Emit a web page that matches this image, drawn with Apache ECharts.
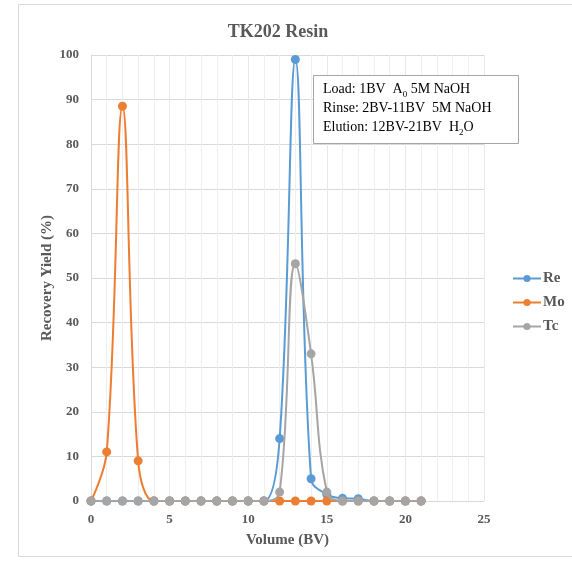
<!DOCTYPE html>
<html><head><meta charset="utf-8">
<script src="https://cdn.jsdelivr.net/npm/echarts@6/dist/echarts.min.js"></script>
<style>html,body{margin:0;padding:0;background:#fff}#c{width:572px;height:562px}</style>
</head><body><div id="c"></div>
<script>
const volumes = [0,1,2,3,4,5,6,7,8,9,10,11,12,13,14,15,16,17,18,19,20,21];
const reValues = [0,0,0,0,0,0,0,0,0,0,0,0,14,99,5,1.5,0.6,0.5,0,0,0,0];
const moValues = [0,11,88.5,9,0,0,0,0,0,0,0,0,0,0,0,0,0,0,0,0,0,0];
const tcValues = [0,0,0,0,0,0,0,0,0,0,0,0,2,53.2,33,2,0,0,0,0,0,0];
const seriesNames = ['Re','Mo','Tc'];
const colors = ['#5b9bd5','#ed7d31','#a5a5a5'];
const yTicks = [0,10,20,30,40,50,60,70,80,90,100];
const xTicks = [0,5,10,15,20,25];

const serif = '"Liberation Serif", "Times New Roman", serif';
const chart = echarts.init(document.getElementById('c'));
const pair = vals => volumes.map((v,i)=>[v, vals[i]]);
const allVals = [reValues, moValues, tcValues];
chart.setOption({
  animation:false,
  title:{text:'TK202 Resin', left:273, top:18, textAlign:'center',
    textStyle:{fontFamily:serif, fontSize:18, fontWeight:'bold', color:'#595959'}},
  grid:{left:91, right:88, top:55, bottom:61},
  legend:{orient:'vertical', left:507, top:266, itemGap:9, itemWidth:28, itemHeight:9,
    data:seriesNames,
    textStyle:{fontFamily:serif, fontSize:15, fontWeight:'bold', color:'#595959', padding:[0,0,0,-3]}},
  xAxis:{type:'value', min:xTicks[0], max:xTicks[xTicks.length-1], interval:5,
    name:'Volume (BV)', nameLocation:'middle', nameGap:32,
    nameTextStyle:{fontFamily:serif, fontSize:15, fontWeight:'bold', color:'#595959'},
    axisLine:{lineStyle:{color:'#d9d9d9', width:1}},
    axisTick:{show:false},
    axisLabel:{fontFamily:serif, fontSize:13, fontWeight:'bold', color:'#595959', margin:12},
    splitLine:{show:true, lineStyle:{color:'#e8e8e8'}},
    minorTick:{show:false, splitNumber:5},
    minorSplitLine:{show:true, lineStyle:{color:'#efefef'}}},
  yAxis:{type:'value', min:yTicks[0], max:yTicks[yTicks.length-1], interval:10,
    name:'Recovery Yield (%)', nameLocation:'middle', nameGap:36, nameMoveOverlap:false,
    nameTextStyle:{fontFamily:serif, fontSize:15, fontWeight:'bold', color:'#595959'},
    axisLine:{show:true, lineStyle:{color:'#d9d9d9'}},
    axisTick:{show:false},
    axisLabel:{fontFamily:serif, fontSize:13, fontWeight:'bold', color:'#595959', margin:12},
    splitLine:{show:true, lineStyle:{color:'#d9d9d9'}}},
  series: seriesNames.map((n,i)=>({
    name:n, type:'line', data:pair(allVals[i]), smooth:0.4,
    symbol:'circle', symbolSize:9, color:colors[i],
    lineStyle:{width:2, color:colors[i]}, itemStyle:{color:colors[i]}, z:2+i
  })),
  graphic:[
    {type:'rect', shape:{x:18.5,y:4.5,width:560,height:552}, style:{fill:'none', stroke:'#d9d9d9', lineWidth:1}, z:-1, silent:true},
    {type:'rect', shape:{x:313.5,y:75.5,width:205,height:68}, style:{fill:'#fff', stroke:'#a6a6a6', lineWidth:1}, z:100},
    {type:'text', left:323, top:80, z:101, style:{
      text:'{n|Load: 1BV  A}{s|0}{n| 5M NaOH}\n{n|Rinse: 2BV-11BV  5M NaOH}\n{n|Elution: 12BV-21BV  H}{s|2}{n|O}',
      fill:'#000', fontFamily:serif, fontSize:14, lineHeight:19,
      rich:{n:{fontFamily:serif, fontSize:14, lineHeight:19, fill:'#000'},
            s:{fontFamily:serif, fontSize:9, lineHeight:19, fill:'#000', verticalAlign:'bottom', padding:[6,0,0,0]}}
    }}
  ]
});
</script></body></html>
